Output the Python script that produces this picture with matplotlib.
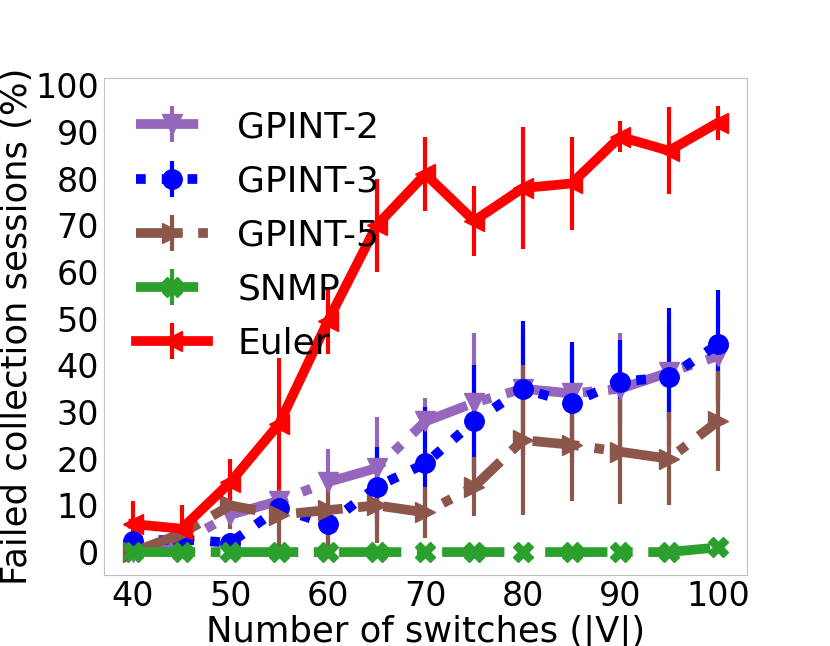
import numpy as np
import matplotlib
matplotlib.use("Agg")
import matplotlib.pyplot as plt

switches = [40, 45, 50, 55, 60, 65, 70, 75, 80, 85, 90, 95, 100]

gpint2 = [0, 2, 8, 11, 15, 18, 28, 32, 35, 34, 35, 38.5, 42]
gpint2_err = [1, 1, 2, 3, 7, 11, 5, 15, 12, 10, 12, 10, 10]

gpint3 = [2.4, 2.7, 2, 9.4, 6, 14, 19, 28, 35, 32, 36.5, 37.5, 44.5]
gpint3_err = [2, 2, 2, 3, 4.5, 8.5, 12, 12, 14.6, 13, 9, 14.7, 11.6]

gpint5 = [0, 4, 10, 8, 9, 10, 8.5, 14, 24, 23, 21.5, 20, 28]
gpint5_err = [1, 3, 5, 7, 8, 8, 5.5, 6.3, 16, 12, 11.3, 10, 10.7]

snmp = [0, 0, 0, 0, 0, 0, 0, 0, 0, 0, 0, 0, 1]
snmp_err = [0] * 13

euler = [6, 5, 15, 27.5, 49.5, 70, 81, 71, 78, 79, 89, 86, 92]
euler_err = [5, 5, 5, 14, 7, 10, 8, 7.5, 13, 10, 3.3, 9.3, 3.7]

series = [
    ("GPINT-2", gpint2, gpint2_err, "#9467bd", "v", "-."),
    ("GPINT-3", gpint3, gpint3_err, "blue", "o", ":"),
    ("GPINT-5", gpint5, gpint5_err, "#8c564b", ">", (0, (4.8, 1.6, 1, 1.6))),
    ("SNMP", snmp, snmp_err, "#2ca02c", "X", "-."),
    ("Euler", euler, euler_err, "red", "<", "-"),
]

fig, ax = plt.subplots(figsize=(8.3, 6.46), dpi=100)

for name, vals, errs, color, marker, ls in series:
    ax.errorbar(switches, vals, yerr=errs, color=color, marker=marker,
                linestyle=ls, linewidth=7, markersize=14, elinewidth=3,
                capsize=0, label=name)

ax.set_xticks(np.arange(40, 101, 10))
ax.set_yticks(np.arange(0, 101, 10))
ax.set_ylim(-4.9, 101.7)
ax.tick_params(length=0, labelsize=24)
for sp in ax.spines.values():
    sp.set_color("#bfbfbf")

ax.set_xlabel("Number of switches (|V|)", fontsize=25.5, labelpad=1)
ax.set_ylabel("Failed collection sessions (%)", fontsize=25.5, labelpad=1)

ax.legend(loc="upper left", frameon=False, fontsize=26, labelspacing=0.56)

fig.savefig("out.png", dpi=100)
